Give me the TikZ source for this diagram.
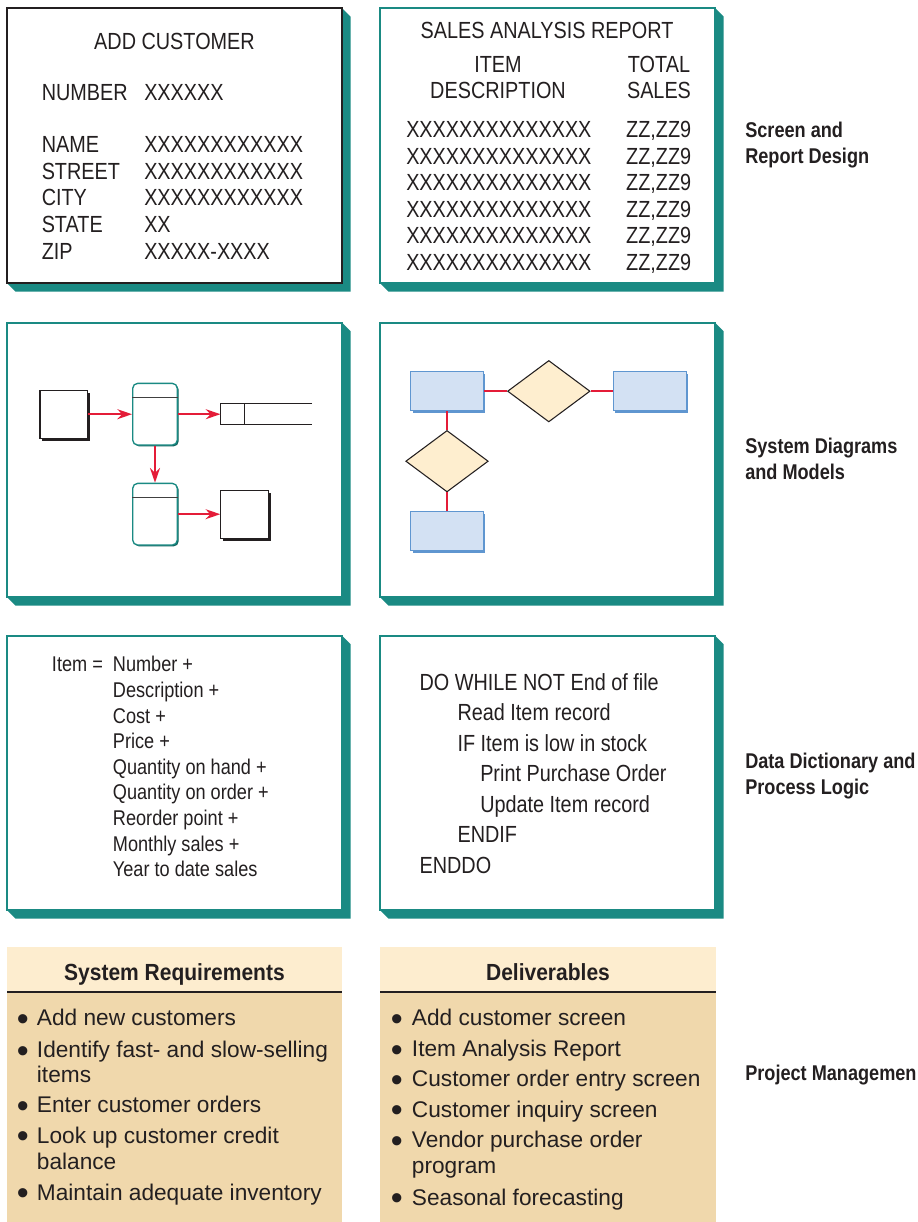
\documentclass[tikz,border=0pt]{standalone}
\usepackage{fontspec}
\setmainfont{Liberation Sans}
\newfontfamily\scrfont{Liberation Sans}[FakeStretch=0.85]
\newfontfamily\hdfont{Liberation Sans}[FakeStretch=0.9]
\usetikzlibrary{arrows.meta,shapes.geometric,shadows,calc}

\definecolor{panelteal}{RGB}{26,138,131}
\definecolor{arrowred}{RGB}{228,28,56}
\definecolor{entblue}{RGB}{211,225,243}
\definecolor{entline}{RGB}{95,150,208}
\definecolor{relcream}{RGB}{254,238,207}
\definecolor{headcream}{RGB}{253,237,207}
\definecolor{bodytan}{RGB}{240,216,172}
\definecolor{ink}{RGB}{35,31,32}

\tikzset{
  scrtxt/.style={font=\scrfont\fontsize{17.5}{20}\selectfont, text=ink, inner sep=0pt},
  ddtxt/.style={font=\scrfont\fontsize{16}{19}\selectfont, text=ink, inner sep=0pt, anchor=base west},
  sidelabel/.style={font=\scrfont\bfseries\fontsize{16}{19.2}\selectfont, text=ink, inner sep=0pt, anchor=base west, align=left},
  listhead/.style={font=\hdfont\bfseries\fontsize{17.5}{20}\selectfont, text=ink, inner sep=0pt, anchor=base},
  listitem/.style={font=\fontsize{17}{19.1}\selectfont, text=ink, inner sep=0pt, anchor=base west, align=left},
  listdot/.style={font=\fontsize{17}{19.1}\selectfont, text=ink, inner sep=0pt, anchor=base west},
  extent/.style={draw=ink, line width=0.9pt, fill=white, minimum width=35.5pt, minimum height=36pt, inner sep=0pt,
    drop shadow={shadow xshift=1.8pt, shadow yshift=-1.8pt, fill=ink, opacity=1}},
  proc/.style={draw=panelteal, line width=1pt, fill=white, rounded corners=3.8pt, minimum width=33.5pt, minimum height=46.3pt, inner sep=0pt,
    drop shadow={shadow xshift=1pt, shadow yshift=-1pt, fill=panelteal!70!black, opacity=1}},
  flow/.style={draw=arrowred, line width=1.1pt, -{Stealth[length=11pt,width=7.5pt]}},
  entity/.style={draw=entline, line width=0.8pt, fill=entblue, minimum width=54.5pt, minimum height=29.3pt, inner sep=0pt,
    drop shadow={shadow xshift=1.5pt, shadow yshift=-1.5pt, fill=entline, opacity=1}},
  relation/.style={diamond, draw=ink, line width=0.8pt, fill=relcream, minimum width=61.9pt, minimum height=46.1pt, inner sep=0pt},
  erlink/.style={draw=arrowred, line width=1.1pt},
}

\begin{document}
\begin{tikzpicture}[x=0.75pt, y=-0.75pt]
\useasboundingbox (0,0) rectangle (918,1222);

% panels and their teal shadows
\foreach \xa/\ya/\xb/\yb in {7/8/342/283, 380/8/715/283, 7/322.5/342/597, 380/322.5/715/597, 7/635.5/342/910, 380/635.5/715/910}
  \fill[panelteal] (\xb,\ya) -- (\xb+8.5,\ya+8.5) -- (\xb+8.5,\yb+8.5) -- (\xa+8.5,\yb+8.5) -- (\xa,\yb) -- cycle;
\draw[ink, line width=0.8pt, fill=white] (7,8) rectangle (342,283);
\foreach \xa/\ya/\xb/\yb in {380/8/715/283, 7/322.5/342/597, 380/322.5/715/597, 7/635.5/342/910, 380/635.5/715/910}
  \draw[panelteal, line width=1.5pt, fill=white] (\xa,\ya) rectangle (\xb,\yb);

\fill[bodytan] (7,947) rectangle (342,1222);
\fill[headcream] (7,947) rectangle (342,992);
\draw[ink, line width=1.5pt] (7,992) -- (342,992);
\fill[bodytan] (380,947) rectangle (716,1222);
\fill[headcream] (380,947) rectangle (716,992);
\draw[ink, line width=1.5pt] (380,992) -- (716,992);

% screen design
\node[scrtxt, anchor=base] (addcust) at (174.5,49) {ADD CUSTOMER};
\node[scrtxt, anchor=base west] (numlbl) at (41.5,100) {NUMBER};
\node[scrtxt, anchor=base west] (numval) at (144,100) {XXXXXX};
\foreach \fld/\fmt [count=\i from 0] in {NAME/XXXXXXXXXXXX, STREET/XXXXXXXXXXXX, CITY/XXXXXXXXXXXX, STATE/XX, ZIP/XXXXX-XXXX} {
  \node[scrtxt, anchor=base west] (fld\i) at (41.5,{152.7+26.6*\i}) {\fld};
  \node[scrtxt, anchor=base west] (val\i) at (144,{152.7+26.6*\i}) {\fmt};
}

% report design
\node[scrtxt, anchor=base] (salesrpt) at (547,38.3) {SALES ANALYSIS REPORT};
\node[scrtxt, anchor=base] (itemhd) at (498,72.5) {ITEM};
\node[scrtxt, anchor=base] (deschd) at (498,98.3) {DESCRIPTION};
\node[scrtxt, anchor=base] (totalhd) at (659,72.5) {TOTAL};
\node[scrtxt, anchor=base] (saleshd) at (659,98.3) {SALES};
\foreach \i in {0,...,5} {
  \node[scrtxt, anchor=base west] (desc\i) at (406,{137.7+26.5*\i}) {XXXXXXXXXXXXXX};
  \node[scrtxt, anchor=base east] (amt\i) at (691.5,{137.7+26.5*\i}) {ZZ,ZZ9};
}

% data flow diagram
\node[extent] (src) at (63.7,414.2) {};
\node[proc] (proc1) at (155,414.2) {};
\node[inner sep=0pt, minimum width=68.3pt, minimum height=15.5pt] (store) at (266.2,414.2) {};
\node[proc] (proc2) at (155,514.2) {};
\node[extent] (sink) at (244.5,514.2) {};
\draw[black!75, line width=0.8pt] ($(proc1.north west)+(0,15)$) -- ($(proc1.north east)+(0,15)$);
\draw[black!75, line width=0.8pt] ($(proc2.north west)+(0,15)$) -- ($(proc2.north east)+(0,15)$);
\draw[ink, line width=0.8pt] (store.north east) -- (store.north west) -- (store.south west) -- (store.south east);
\draw[ink, line width=0.8pt] ($(store.north west)+(24.3,0)$) -- ($(store.south west)+(24.3,0)$);
\draw[flow] (src) -- (proc1);
\draw[flow] (proc1) -- (store);
\draw[flow] (proc1) -- (proc2);
\draw[flow] (proc2) -- (sink);

% entity relationship diagram
\node[entity] (entA) at (447,391.2) {};
\node[relation] (relA) at (548.8,391.2) {};
\node[entity] (entB) at (649.7,391.2) {};
\node[relation] (relB) at (447,461.2) {};
\node[entity] (entC) at (447,531.2) {};
\draw[erlink] (entA) -- (relA) -- (entB);
\draw[erlink] (entA) -- (relB) -- (entC);

% data dictionary
\node[ddtxt] (itemeq) at (51.7,671.7) {Item =};
\foreach \part [count=\i from 0] in {Number +, Description +, Cost +, Price +, Quantity on hand +, Quantity on order +, Reorder point +, Monthly sales +, Year to date sales}
  \node[ddtxt] (part\i) at (112.7,{671.7+25.65*\i}) {\part};

% process logic
\foreach \xx/\stmt [count=\i from 0] in {419.3/DO WHILE NOT End of file, 457.3/Read Item record, 457.3/IF Item is low in stock, 480/Print Purchase Order, 480/Update Item record, 457.3/ENDIF, 419.3/ENDDO}
  \node[scrtxt, anchor=base west] (stmt\i) at (\xx,{690+30.5*\i}) {\stmt};

% side labels (base = last line)
\node[sidelabel] (lblscreen) at (745,163.3) {Screen and\\Report Design};
\node[sidelabel] (lbldiag) at (745,479) {System Diagrams\\and Models};
\node[sidelabel] (lbldict) at (745,794) {Data Dictionary and\\Process Logic};
\node[sidelabel] (lblproj) at (745,1080) {Project Managemen};

% project management lists
\node[listhead] (reqhead) at (174.5,980) {System Requirements};
\node[listhead] (delhead) at (548,980) {Deliverables};
\foreach \yy/\ly/\itm [count=\i from 0] in {1025.7/1025.7/Add new customers, 1057.7/1082.7/{Identify fast- and slow-selling\\items}, 1112.7/1112.7/Enter customer orders, 1142.7/1169.3/{Look up customer credit\\balance}, 1200/1200/Maintain adequate inventory} {
  \node[listdot] (reqdot\i) at (16.5,\yy+4.3) {\scalebox{1.5}{\textbullet}};
  \node[listitem] (req\i) at (36.7,\ly) {\itm};
}
\foreach \yy/\ly/\itm [count=\i from 0] in {1025.7/1025.7/Add customer screen, 1056.7/1056.7/Item Analysis Report, 1086.7/1086.7/Customer order entry screen, 1117.3/1117.3/Customer inquiry screen, 1148.3/1173.3/{Vendor purchase order\\program}, 1205/1205/Seasonal forecasting} {
  \node[listdot] (deldot\i) at (390.5,\yy+4.3) {\scalebox{1.5}{\textbullet}};
  \node[listitem] (del\i) at (411.7,\ly) {\itm};
}
\end{tikzpicture}
\end{document}
